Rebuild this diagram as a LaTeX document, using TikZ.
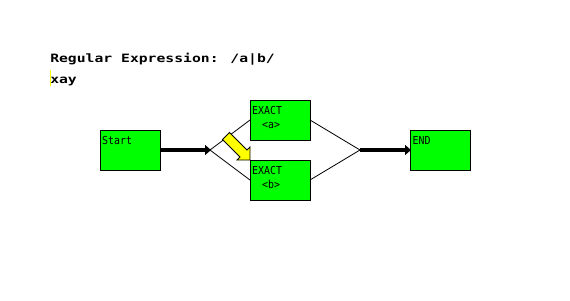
\documentclass[tikz,border=0pt]{standalone}
\usepackage{fontspec}
\newfontfamily\monof{DejaVu Sans Mono}
\usetikzlibrary{arrows.meta,calc}
\definecolor{boxgreen}{RGB}{0,255,0}
\definecolor{ptryellow}{RGB}{255,255,0}
\tikzset{
  statebox/.style={draw=black, line width=1pt, fill=boxgreen, minimum width=60pt, minimum height=40pt, inner sep=0pt, outer sep=0pt},
  boxlbl/.style={anchor=base west, inner sep=0pt, xscale=0.9, font=\monof\fontsize{11}{13}\selectfont},
  titletxt/.style={anchor=base west, inner sep=0pt, xscale=1.28, font=\monof\bfseries\fontsize{11.5}{13}\selectfont},
  thin link/.style={draw=black, line width=0.8pt},
  thick link/.style={draw=black, line width=4pt, -{Triangle[length=6pt,width=10pt]}, shorten >=-1pt},
}
\begin{document}
\begin{tikzpicture}[x=1pt,y=-1pt]
\useasboundingbox[fill=white] (0,0) rectangle (570,300);
% cursor and texts
\draw[ptryellow, line width=1.2pt] (50.6,70) -- (50.6,86);
\node[titletxt] (title) at (50,62) {Regular Expression: /a|b/};
\node[titletxt] (input) at (50,83) {xay};
% boxes
\node[statebox] (st) at (130,150) {};
\node[statebox] (ea) at (280,120) {};
\node[statebox] (eb) at (280,180) {};
\node[statebox] (en) at (440,150) {};
\node[boxlbl] (stl) at ($(st.north west)+(2,14)$) {Start};
\node[boxlbl] (eal) at ($(ea.north west)+(2,14)$) {EXACT};
\node[boxlbl] (eal2) at ($(ea.north west)+(12,28)$) {<a>};
\node[boxlbl] (ebl) at ($(eb.north west)+(2,14)$) {EXACT};
\node[boxlbl] (ebl2) at ($(eb.north west)+(12,28)$) {<b>};
\node[boxlbl] (enl) at ($(en.north west)+(2.5,14)$) {END};
% junctions
\coordinate (j1) at (210,150);
\coordinate (j2) at (360,150);
% connectors
\draw[thin link] (j1) -- (ea.west);
\draw[thin link] (j1) -- (eb.west);
\draw[thin link] (ea.east) -- (j2);
\draw[thin link] (eb.east) -- (j2);
\draw[thick link] (st.east) -- (j1);
\draw[thick link] (j2) -- (en.west);
% yellow pointer
\draw[black, line width=0.8pt, fill=ptryellow]
  (222.5,139.5) -- (229.5,132.5) -- (247,150) -- (250,147) -- (250,160) -- (237,160) -- (240,157) -- cycle;
\end{tikzpicture}
\end{document}
